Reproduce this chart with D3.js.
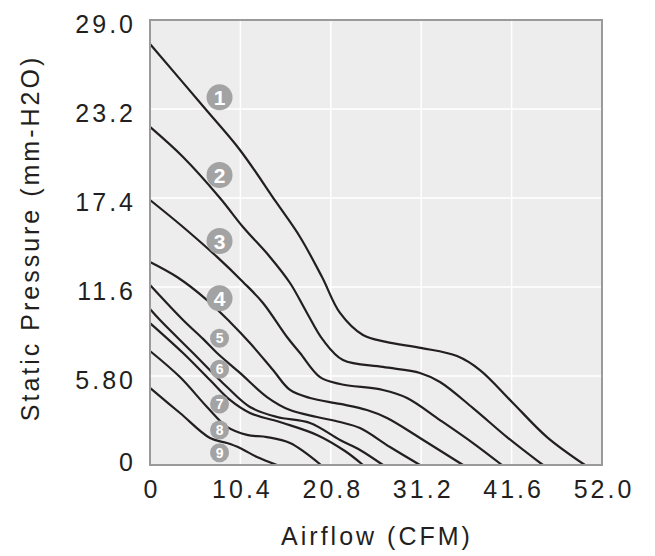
<!DOCTYPE html>
<html>
<head>
<meta charset="utf-8">
<script src="https://cdn.jsdelivr.net/npm/d3@7"></script>
<style>
  html, body { margin: 0; padding: 0; background: #ffffff; }
  text { font-family: "Liberation Sans", Arial, sans-serif; }
</style>
</head>
<body>
<svg id="chart" width="655" height="556"></svg>
<script>
// ---- Data ----
const xTicks = [0, 10.4, 20.8, 31.2, 41.6, 52.0];
const xTickLabels = ["0", "10.4", "20.8", "31.2", "41.6", "52.0"];
const yTicks = [0, 5.8, 11.6, 17.4, 23.2, 29.0];
const yTickLabels = ["0", "5.80", "11.6", "17.4", "23.2", "29.0"];

const curve1 = [[0,27.44],[6.33,23.23],[10.35,20.53],[14.5,17.14],[17.26,14.86],[19.79,12.25],[21.86,9.91],[24.5,8.47],[27.15,8.02],[31.29,7.62],[35.32,7.10],[37.96,6.19],[41.64,4.11],[45.67,1.82],[50.04,0]];
const curve2 = [[0,22.03],[3.80,20.07],[8.05,17.40],[10.70,15.51],[13.80,13.56],[16.11,11.86],[18.06,9.91],[19.90,8.15],[22.20,6.84],[26.80,6.39],[31.06,6.00],[33.36,5.41],[37.16,3.71],[41.07,1.82],[45.21,0]];
const curve3 = [[0,17.27],[3.80,15.51],[7.71,13.56],[10.70,11.93],[13.00,10.56],[15.76,8.34],[17.26,7.30],[19.56,5.73],[21.86,5.28],[26.80,4.89],[29.57,4.37],[33.36,2.93],[37.16,1.43],[40.49,0]];
const curve4 = [[0,13.23],[3.11,12.25],[6.56,10.75],[9.20,9.32],[11.50,7.95],[14.15,6.19],[16.11,4.89],[18.41,4.37],[21.86,3.98],[24.96,3.58],[27.27,3.06],[31.06,1.76],[36.01,0]];
const curve5 = [[0,11.73],[3.80,9.45],[6.10,8.22],[7.71,7.30],[10.35,6.00],[13.46,4.43],[16.11,3.58],[19.21,3.13],[21.86,2.80],[24.16,2.41],[27.61,1.17],[31.06,0]];
const curve6 = [[0,10.17],[1.15,9.45],[4.95,7.30],[8.86,5.08],[11.50,3.78],[14.61,3.13],[18.41,2.74],[21.86,1.63],[24.16,0.98],[26.80,0]];
const curve7 = [[0,9.25],[3.80,7.30],[6.90,5.54],[9.20,4.24],[11.50,3.39],[15.30,2.74],[19.21,1.96],[22.43,0.91],[24.50,0]];
const curve8 = [[0,7.43],[3.45,5.73],[6.56,3.78],[8.86,2.48],[11.16,1.96],[13.46,1.82],[16.11,1.43],[19.67,0]];
const curve9 = [[0,5.02],[3.45,3.39],[6.90,1.76],[8.86,1.43],[10.35,1.11],[12.31,0.52],[14.61,0]];
const curves = [curve1, curve2, curve3, curve4, curve5, curve6, curve7, curve8, curve9];

const labelNames = ["1","2","3","4","5","6","7","8","9"];
const labelX = [8.0, 8.0, 8.0, 8.0, 8.0, 8.0, 8.0, 8.0, 8.0];
const labelY = [23.96, 18.90, 14.60, 10.86, 8.26, 6.24, 3.98, 2.28, 0.80];

// ---- Layout ----
const svg = d3.select("#chart");
const margin = {left: 150, top: 20, right: 53, bottom: 91};
const W = 655, H = 556;
const pw = W - margin.left - margin.right;
const ph = H - margin.top - margin.bottom;

const x = d3.scaleLinear().domain([0, 52]).range([margin.left, margin.left + pw]);
const y = d3.scaleLinear().domain([0, 29]).range([margin.top + ph, margin.top]);

// plot background
svg.append("rect")
  .attr("x", x(0)).attr("y", y(29))
  .attr("width", pw).attr("height", ph)
  .attr("fill", "#ededed");

// grid lines
const grid = svg.append("g");
grid.selectAll("line.vx").data(xTicks.slice(1, -1)).join("line")
  .attr("x1", d => x(d)).attr("x2", d => x(d))
  .attr("y1", y(0)).attr("y2", y(29))
  .attr("stroke", "#ffffff").attr("stroke-width", 1.5);
grid.selectAll("line.hy").data(yTicks.slice(1, -1)).join("line")
  .attr("x1", x(0)).attr("x2", x(52))
  .attr("y1", d => y(d)).attr("y2", d => y(d))
  .attr("stroke", "#ffffff").attr("stroke-width", 1.5);

// curves
const line = d3.line().x(d => x(d[0])).y(d => y(d[1])).curve(d3.curveCatmullRom.alpha(0.5));
svg.append("g").selectAll("path").data(curves).join("path")
  .attr("d", line)
  .attr("fill", "none")
  .attr("stroke", "#231f20")
  .attr("stroke-width", 2.2)
  .attr("stroke-linejoin", "round");

// frame
svg.append("rect")
  .attr("x", x(0)).attr("y", y(29))
  .attr("width", pw).attr("height", ph)
  .attr("fill", "none")
  .attr("stroke", "#9a9a9a").attr("stroke-width", 2);

// curve labels
const lab = svg.append("g").selectAll("g").data(labelNames).join("g")
  .attr("transform", (d, i) => `translate(${x(labelX[i])},${y(labelY[i])})`);
lab.append("circle")
  .attr("r", (d, i) => i < 4 ? 13 : 9.5)
  .attr("fill", "#a3a3a3");
lab.append("text")
  .attr("text-anchor", "middle")
  .attr("dy", "0.36em")
  .attr("font-size", (d, i) => i < 4 ? 21 : 14)
  .attr("font-weight", "bold")
  .attr("fill", "#ffffff")
  .text(d => d);

// x axis labels
const xAxis = d3.axisBottom(x).tickValues(xTicks).tickFormat((d, i) => xTickLabels[i]).tickSize(0);
const gx = svg.append("g").attr("transform", `translate(0,${y(0)})`).call(xAxis);
gx.select(".domain").remove();
gx.selectAll("text")
  .attr("y", 33).attr("dy", 0)
  .attr("font-size", 25)
  .attr("letter-spacing", "3px")
  .attr("dx", "1.5px")
  .attr("fill", "#231f20")
  .style("font-family", '"Liberation Sans", Arial, sans-serif');

// y axis labels
const yAxis = d3.axisLeft(y).tickValues(yTicks).tickFormat((d, i) => yTickLabels[i]).tickSize(0);
const gy = svg.append("g").attr("transform", `translate(${x(0)},0)`).call(yAxis);
gy.select(".domain").remove();
gy.selectAll("text")
  .attr("x", -14)
  .attr("dy", 0)
  .attr("y", d => d === 0 ? 5 : 12)
  .attr("font-size", 25)
  .attr("letter-spacing", "3px")
  .attr("fill", "#231f20")
  .style("font-family", '"Liberation Sans", Arial, sans-serif');

// axis titles
svg.append("text")
  .attr("x", 377).attr("y", 545)
  .attr("text-anchor", "middle")
  .attr("font-size", 25)
  .attr("letter-spacing", "3px")
  .attr("fill", "#231f20")
  .text("Airflow (CFM)");

svg.append("text")
  .attr("transform", "translate(39,238) rotate(-90)")
  .attr("text-anchor", "middle")
  .attr("font-size", 25)
  .attr("letter-spacing", "3px")
  .attr("fill", "#231f20")
  .text("Static Pressure (mm-H2O)");
</script>
</body>
</html>
